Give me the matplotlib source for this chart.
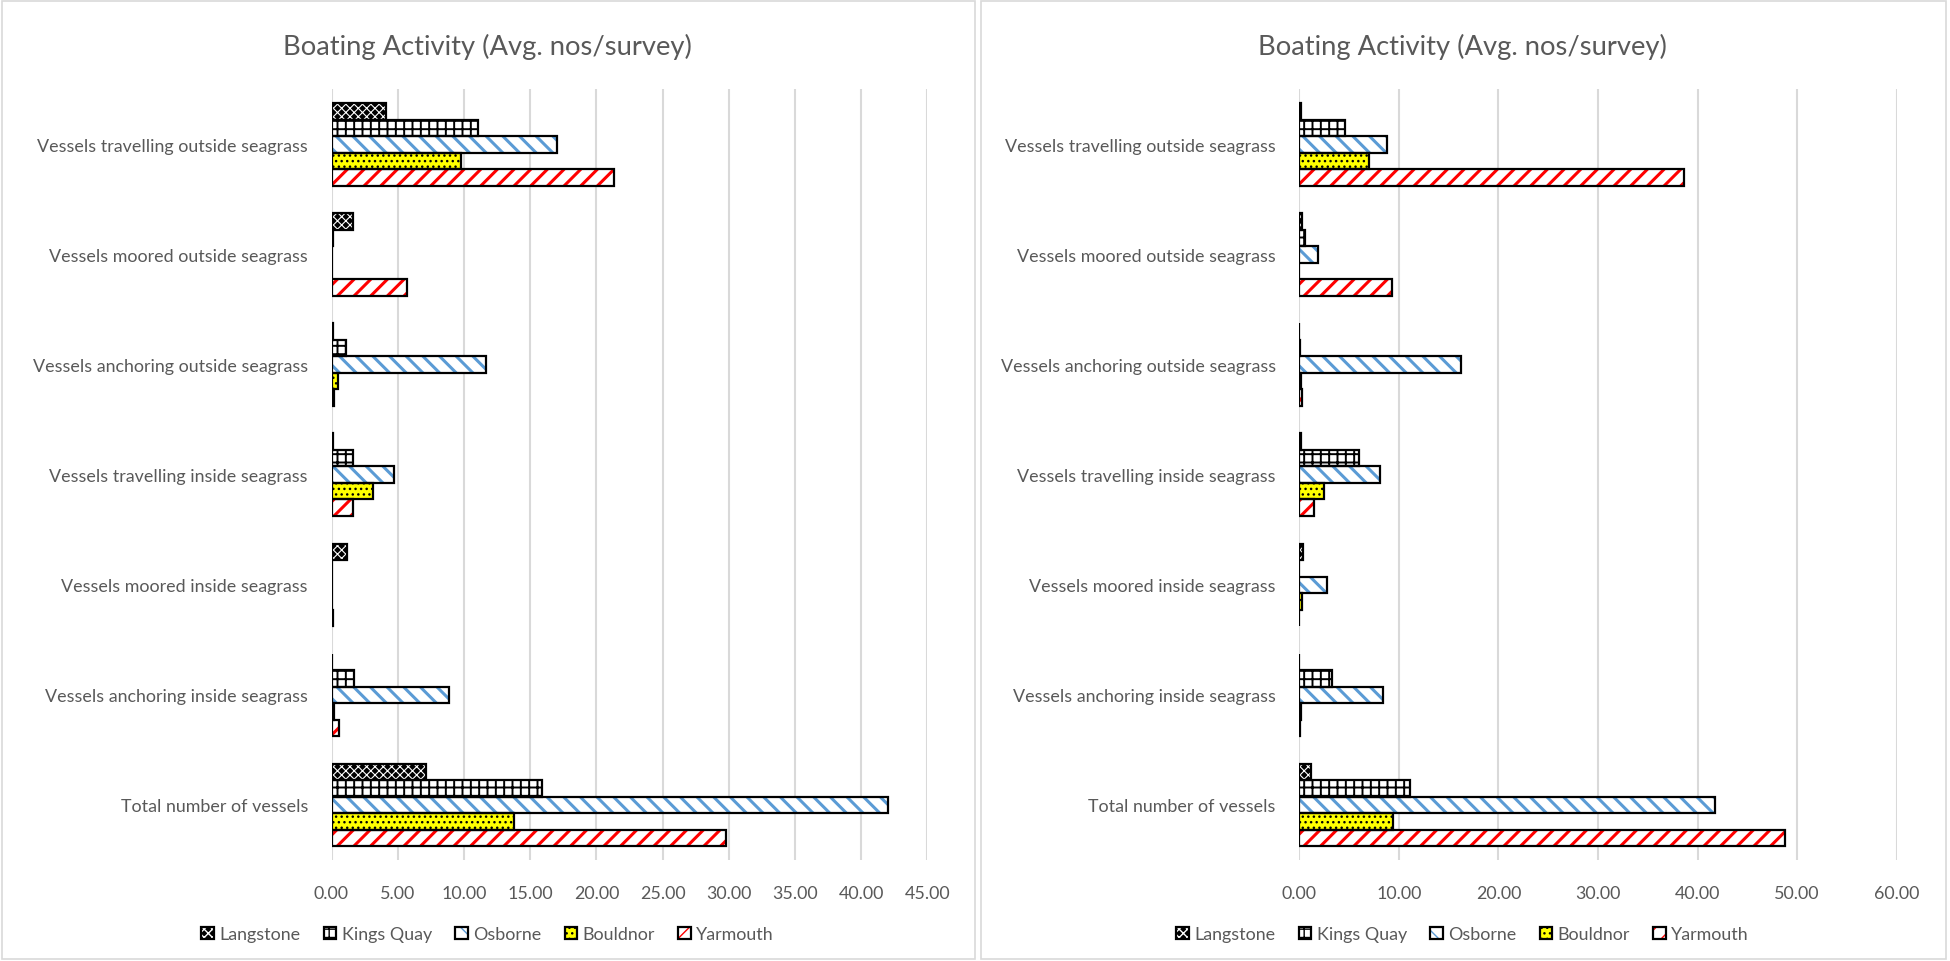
import numpy as np
import matplotlib.pyplot as plt
from matplotlib.patches import Rectangle
from matplotlib.legend_handler import HandlerTuple

plt.rcParams['font.family'] = ['Lato', 'DejaVu Sans']

categories = ["Vessels travelling outside seagrass", "Vessels moored outside seagrass",
              "Vessels anchoring outside seagrass", "Vessels travelling inside seagrass",
              "Vessels moored inside seagrass", "Vessels anchoring inside seagrass",
              "Total number of vessels"]
sites = ["Langstone", "Kings Quay", "Osborne", "Bouldnor", "Yarmouth"]

# left chart
langstone_l = [4.1, 1.6, 0.1, 0.1, 1.2, 0.0, 7.1]
kings_l = [11.1, 0.1, 1.1, 1.6, 0.0, 1.7, 15.9]
osborne_l = [17.0, 0.0, 11.7, 4.7, 0.0, 8.9, 42.0]
bouldnor_l = [9.8, 0.0, 0.5, 3.1, 0.0, 0.2, 13.8]
yarmouth_l = [21.3, 5.7, 0.2, 1.6, 0.1, 0.6, 29.8]

# right chart
langstone_r = [0.2, 0.3, 0.0, 0.2, 0.4, 0.0, 1.2]
kings_r = [4.6, 0.6, 0.1, 6.0, 0.0, 3.3, 11.1]
osborne_r = [8.8, 1.9, 16.2, 8.1, 2.8, 8.4, 41.7]
bouldnor_r = [7.0, 0.0, 0.2, 2.5, 0.3, 0.2, 9.4]
yarmouth_r = [38.6, 9.3, 0.3, 1.5, 0.0, 0.1, 48.8]

# (face, hatch, hatch colour, hatch linewidth)
styles = [("black", "xxxx", "white", 0.8),
          ("white", "++", "black", 1.4),
          ("white", "\\\\", "#5B9BD5", 2.2),
          ("#FFFF00", "...", "black", 1.0),
          ("white", "//", "#FF0000", 2.2)]

txt = "#595959"
grid = "#D9D9D9"


def draw(ax, series, xmax, step):
    y = np.arange(len(categories))
    h = 0.15
    handles = []
    for j, vals in enumerate(series):
        face, hatch, hc, hlw = styles[j]
        pos = y + (j - 2) * h
        with plt.rc_context({'hatch.linewidth': hlw}):
            b1 = ax.barh(pos, vals, height=h, color=face, hatch=hatch,
                         edgecolor=hc, linewidth=0, zorder=3)
        b2 = ax.barh(pos, vals, height=h, fill=False, edgecolor="black",
                     linewidth=1.6, zorder=4)
        handles.append((b1.patches[0], b2.patches[0]))
    ax.set_yticks(y)
    ax.set_yticklabels(categories)
    ax.set_ylim(len(categories) - 0.5, -0.5)
    ax.set_xlim(0, xmax)
    ticks = np.arange(0, xmax + step / 2, step)
    ax.set_xticks(ticks)
    ax.set_xticklabels([f"{t:.2f}" for t in ticks])
    ax.tick_params(length=0, labelsize=12.9, colors=txt)
    ax.tick_params(axis="y", pad=17)
    ax.tick_params(axis="x", pad=18)
    ax.grid(axis="x", color=grid, linewidth=1.5, zorder=0)
    ax.set_axisbelow(True)
    for s in ax.spines.values():
        s.set_visible(False)
    return handles


fig = plt.figure(figsize=(19.5, 9.62), dpi=100)

# panel borders
fig.patches.append(Rectangle((0.001, 0.002), 0.499, 0.996, transform=fig.transFigure,
                             fill=False, edgecolor="#D9D9D9", linewidth=1.2))
fig.patches.append(Rectangle((0.503, 0.002), 0.495, 0.996, transform=fig.transFigure,
                             fill=False, edgecolor="#D9D9D9", linewidth=1.2))

ax1 = fig.add_axes([0.170, 0.105, 0.3056, 0.801])
ax2 = fig.add_axes([0.6663, 0.105, 0.3064, 0.801])

h1 = draw(ax1, [langstone_l, kings_l, osborne_l, bouldnor_l, yarmouth_l], 45, 5)
h2 = draw(ax2, [langstone_r, kings_r, osborne_r, bouldnor_r, yarmouth_r], 60, 10)

for ax, hs, cx in [(ax1, h1, 0.25), (ax2, h2, 0.75)]:
    fig.text(cx, 0.951, "Boating Activity (Avg. nos/survey)", ha="center", va="center",
             fontsize=19.7, color=txt)
    fig.legend(hs, sites, loc="center", bbox_to_anchor=(cx, 0.028), ncol=5, frameon=False,
               fontsize=12.9, labelcolor=txt, handlelength=0.7, handleheight=0.7,
               handletextpad=0.3, columnspacing=1.3,
               handler_map={tuple: HandlerTuple(ndivide=1, pad=0)})

fig.savefig("out.png", dpi=100)
